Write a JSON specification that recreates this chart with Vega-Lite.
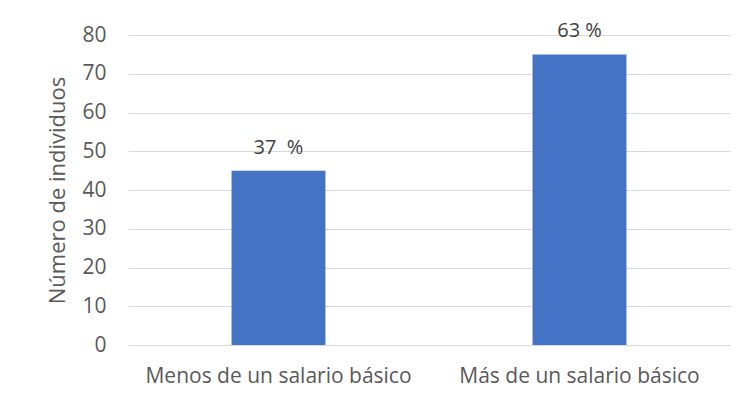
{
  "$schema": "https://vega.github.io/schema/vega-lite/v6.json",
  "width": 602,
  "height": 310,
  "autosize": "none",
  "padding": {"left": 128, "top": 35, "right": 19, "bottom": 58},
  "background": "white",
  "config": {
    "view": {"stroke": null},
    "font": "Open Sans"
  },
  "data": {
    "values": [
      {"categoria": "Menos de un salario básico", "individuos": 45, "etiqueta": "37 \u00a0%"},
      {"categoria": "Más de un salario básico", "individuos": 75, "etiqueta": "63 %"}
    ]
  },
  "encoding": {
    "x": {
      "field": "categoria",
      "type": "nominal",
      "sort": null,
      "scale": {"paddingInner": 0.688, "paddingOuter": 0.344},
      "axis": {
        "title": null,
        "labelAngle": 0,
        "labelFontSize": 21,
        "labelColor": "#595959",
        "labelPadding": 20,
        "labelLimit": 0,
        "ticks": false,
        "domainColor": "#d9d9d9",
        "domainWidth": 1
      }
    },
    "y": {
      "field": "individuos",
      "type": "quantitative",
      "scale": {"domain": [0, 80]},
      "axis": {
        "title": "Número de individuos",
        "titleFontSize": 22,
        "titleFontWeight": "normal",
        "titleColor": "#595959",
        "titlePadding": 12,
        "values": [0, 10, 20, 30, 40, 50, 60, 70, 80],
        "labelFontSize": 21,
        "labelColor": "#595959",
        "labelPadding": 22,
        "ticks": false,
        "domain": false,
        "gridColor": "#d9d9d9",
        "gridWidth": 1
      }
    }
  },
  "layer": [
    {"mark": {"type": "bar", "color": "#4472c4"}},
    {
      "mark": {"type": "text", "baseline": "bottom", "dy": -13, "fontSize": 20, "color": "#404040"},
      "encoding": {"text": {"field": "etiqueta"}}
    }
  ]
}
